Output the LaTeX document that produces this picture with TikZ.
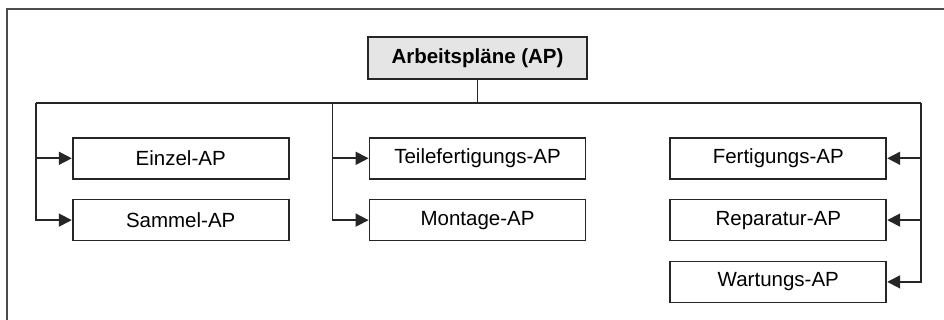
\documentclass[tikz,border=0pt]{standalone}
\usepackage{fontspec}
\setmainfont{Liberation Sans}
\usetikzlibrary{positioning,arrows.meta}

\tikzset{
  plan/.style={draw=black!85, line width=1.8pt, minimum width=216pt, minimum height=41pt,
    inner sep=0pt, font=\fontsize{20.5}{24}\selectfont},
  root/.style={plan, fill=black!10, minimum width=219pt, minimum height=42pt,
    font=\fontsize{20.5}{24}\selectfont\bfseries},
  busline/.style={draw=black!85, line width=1.7pt},
  feed/.style={busline, -{Triangle[length=13pt,width=13pt]}},
  frame/.style={draw=black!70, line width=1.6pt}
}

\begin{document}
\begin{tikzpicture}[x=1pt, y=-1pt]
    \useasboundingbox (0,0) rectangle (944,320);
    \draw[frame] (7,320) -- (7,9) -- (944,9);
    \node[root] (ap) at (477.5,58) {Arbeitspläne (AP)};
    \node[plan, below=57pt of ap] (teil) {Teilefertigungs-AP};
    \node[plan, below=19pt of teil] (mont) {Montage-AP};
    \node[plan, left=79pt of teil] (einz) {Einzel-AP};
    \node[plan, below=19pt of einz] (samm) {Sammel-AP};
    \node[plan, right=83pt of teil] (fert) {Fertigungs-AP};
    \node[plan, below=19pt of fert] (rep) {Reparatur-AP};
    \node[plan, below=19pt of rep] (wart) {Wartungs-AP};
    \coordinate[below=23pt of ap] (bus);
    \coordinate[left=36pt of einz] (l);
    \coordinate[left=36pt of teil] (m);
    \coordinate[right=34pt of fert] (r);
    \draw[busline] (ap) -- (bus);
    \draw[busline] (l |- bus) -- (r |- bus);
    \draw[feed] (l |- bus) |- (einz);
    \draw[feed] (l |- bus) |- (samm);
    \draw[feed] (m |- bus) |- (teil);
    \draw[feed] (m |- bus) |- (mont);
    \draw[feed] (r |- bus) |- (fert);
    \draw[feed] (r |- bus) |- (rep);
    \draw[feed] (r |- bus) |- (wart);
\end{tikzpicture}
\end{document}
